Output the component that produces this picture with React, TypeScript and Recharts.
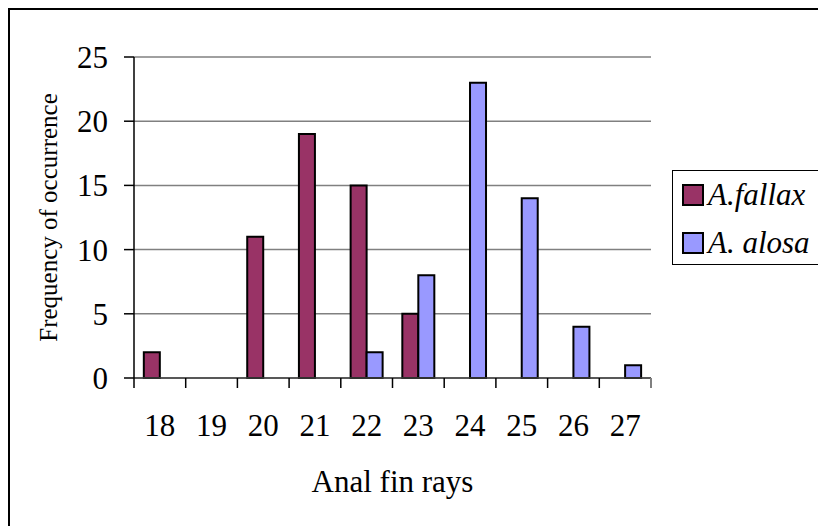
import React from 'react';
import { BarChart, Bar, XAxis, YAxis, CartesianGrid, Legend } from 'recharts';

const categories = ['18', '19', '20', '21', '22', '23', '24', '25', '26', '27'];
const fallax = [2, 0, 11, 19, 15, 5, 0, 0, 0, 0];
const alosa = [0, 0, 0, 0, 2, 8, 23, 14, 4, 1];
const yTicks = [0, 5, 10, 15, 20, 25];
const seriesNames = ['A.fallax', 'A. alosa'];

const data = categories.map((c, i) => ({ rays: c, fallax: fallax[i], alosa: alosa[i] }));

const FONT = '"Liberation Serif", "Times New Roman", serif';
const W = 816;
const H = 516;
const MARGIN = { top: 47, right: 175, left: 24, bottom: 28 };
const Y_WIDTH = 100;
const X_HEIGHT = 120;
const PLOT_W = W - MARGIN.left - MARGIN.right - Y_WIDTH;
const HALF = PLOT_W / categories.length / 2;
const X_TICK_SIZE = 10;
const X_TICK_MARGIN = 26;
const LEGEND_W = 190;

const XTick = (props: any) => {
  const { x, y, payload, index } = props;
  const axisY = y - X_TICK_SIZE - X_TICK_MARGIN;
  return (
    <g>
      <line x1={x - HALF} x2={x - HALF} y1={axisY} y2={axisY + X_TICK_SIZE} stroke="#000" strokeWidth={1.5} />
      {index === categories.length - 1 && (
        <line x1={x + HALF} x2={x + HALF} y1={axisY} y2={axisY + X_TICK_SIZE} stroke="#808080" strokeWidth={2} />
      )}
      <text x={x} y={y} dy="0.71em" textAnchor="middle" fontSize={31} fontFamily={FONT} fill="#000">
        {payload.value}
      </text>
    </g>
  );
};

const LegendBox = (props: any) => {
  const payload = [...(props.payload || [])].sort(
    (a: any, b: any) => seriesNames.indexOf(a.value) - seriesNames.indexOf(b.value)
  );
  return (
    <div
      style={{
        width: LEGEND_W,
        height: 95,
        border: '1.5px solid #000',
        boxSizing: 'border-box',
        background: '#fff',
      }}
    >
      <svg width={LEGEND_W} height={95} style={{ display: 'block' }}>
        {payload.map((p: any, i: number) => (
          <g key={i}>
            <rect x={10} y={14 + i * 48} width={20} height={20} fill={p.color} stroke="#000" strokeWidth={2} />
            <text x={35} y={34 + i * 48} fontSize={31} fontStyle="italic" fontFamily={FONT} fill="#000">
              {p.value}
            </text>
          </g>
        ))}
      </svg>
    </div>
  );
};

export default function App() {
  return (
    <div
      style={{
        position: 'relative',
        width: W,
        height: H,
        borderLeft: '2px solid #000',
        borderTop: '2px solid #000',
        overflow: 'hidden',
        background: '#fff',
      }}
    >
      <BarChart
        width={W}
        height={H}
        data={data}
        margin={MARGIN}
        barCategoryGap="19%"
        barGap={0}
      >
        <CartesianGrid vertical={false} stroke="#808080" strokeWidth={1.5} />
        <XAxis
          dataKey="rays"
          height={X_HEIGHT}
          tickLine={false}
          tickSize={X_TICK_SIZE}
          tickMargin={X_TICK_MARGIN}
          axisLine={{ stroke: '#404040', strokeWidth: 1.5 }}
          tick={<XTick />}
          interval={0}
          label={{
            value: 'Anal fin rays',
            position: 'insideBottom',
            offset: 6,
            style: { fontSize: 31, fontFamily: FONT, fill: '#000', textAnchor: 'middle' },
          }}
        />
        <YAxis
          width={Y_WIDTH}
          domain={[0, 25]}
          ticks={yTicks}
          interval={0}
          tickSize={10}
          tickMargin={16}
          tickLine={{ stroke: '#000', strokeWidth: 1.5 }}
          axisLine={{ stroke: '#000', strokeWidth: 1.5 }}
          tick={{ fontSize: 31, fontFamily: FONT, fill: '#000' }}
          label={{
            value: 'Frequency of occurrence',
            angle: -90,
            position: 'insideLeft',
            offset: 14,
            style: { fontSize: 25, fontFamily: FONT, fill: '#000', textAnchor: 'middle' },
          }}
        />
        <YAxis
          yAxisId="border"
          orientation="right"
          width={0}
          domain={[0, 25]}
          tick={false}
          tickLine={false}
          axisLine={{ stroke: '#808080', strokeWidth: 2 }}
        />
        <Legend
          layout="horizontal"
          verticalAlign="middle"
          align="center"
          content={<LegendBox />}
          wrapperStyle={{ position: 'absolute', left: 662, top: 160, width: LEGEND_W, height: 95 }}
        />
        <Bar
          dataKey="fallax"
          name={seriesNames[0]}
          fill="#993366"
          stroke="#000"
          strokeWidth={2}
          isAnimationActive={false}
        />
        <Bar
          dataKey="alosa"
          name={seriesNames[1]}
          fill="#9999FF"
          stroke="#000"
          strokeWidth={2}
          isAnimationActive={false}
        />
      </BarChart>
    </div>
  );
}
